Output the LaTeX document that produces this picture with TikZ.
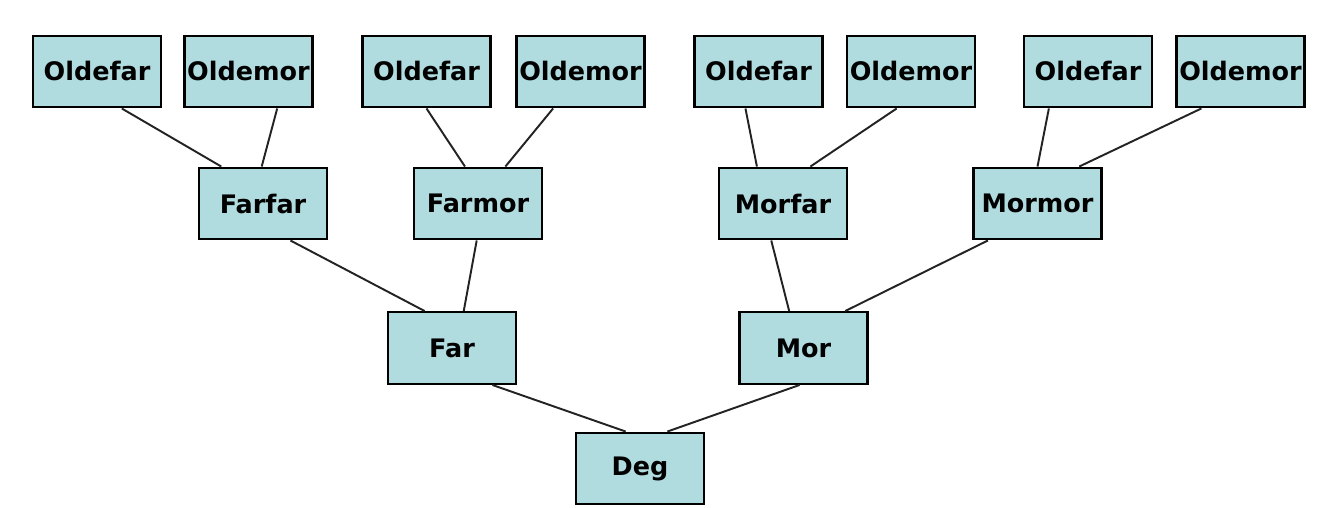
\documentclass[tikz,border=0pt]{standalone}
\usepackage{fontspec}
\setmainfont{DejaVu Sans}
\usetikzlibrary{calc}
\definecolor{boxfill}{RGB}{176,220,224}
\definecolor{linkcol}{RGB}{35,35,35}
\tikzset{
  person/.style={draw=black, line width=1.4pt, fill=boxfill, minimum width=2.56cm, minimum height=1.43cm, inner sep=0pt, font=\fontsize{14.5}{16}\selectfont\bfseries},
  conn/.style={draw=linkcol, line width=1.1pt}
}
\newcommand\famlink[4]{\draw[conn] ($(#1.south west)!#2!(#1.south east)$) -- ($(#3.north west)!#4!(#3.north east)$);}
\begin{document}
\begin{tikzpicture}[x=0.02cm,y=-0.02cm]
\useasboundingbox[fill=white] (0,0) rectangle (1331,507);
% top row
\node[person] (ofa1) at (97,71.5) {Oldefar};
\node[person] (omo1) at (248.5,71.5) {Oldemor};
\node[person] (ofa2) at (426.5,71.5) {Oldefar};
\node[person] (omo2) at (580.5,71.5) {Oldemor};
\node[person] (ofa3) at (758.5,71.5) {Oldefar};
\node[person] (omo3) at (911,71.5) {Oldemor};
\node[person] (ofa4) at (1088,71.5) {Oldefar};
\node[person] (omo4) at (1240.5,71.5) {Oldemor};
% second row
\node[person] (farfar) at (263,203.5) {Farfar};
\node[person] (farmor) at (478,203.5) {Farmor};
\node[person] (morfar) at (783,203.5) {Morfar};
\node[person] (mormor) at (1037.5,203.5) {Mormor};
% third row
\node[person] (far) at (452,348) {Far};
\node[person] (mor) at (803.5,348) {Mor};
% bottom
\node[person] (deg) at (640,468.5) {Deg};
% connectors
\famlink{ofa1}{0.69}{farfar}{0.18}
\famlink{omo1}{0.72}{farfar}{0.49}
\famlink{ofa2}{0.50}{farmor}{0.40}
\famlink{omo2}{0.29}{farmor}{0.71}
\famlink{ofa3}{0.40}{morfar}{0.30}
\famlink{omo3}{0.39}{morfar}{0.71}
\famlink{ofa4}{0.20}{mormor}{0.50}
\famlink{omo4}{0.20}{mormor}{0.82}
\famlink{farfar}{0.71}{far}{0.29}
\famlink{farmor}{0.49}{far}{0.59}
\famlink{morfar}{0.41}{mor}{0.39}
\famlink{mormor}{0.12}{mor}{0.82}
\famlink{far}{0.81}{deg}{0.39}
\famlink{mor}{0.47}{deg}{0.71}
\end{tikzpicture}
\end{document}
